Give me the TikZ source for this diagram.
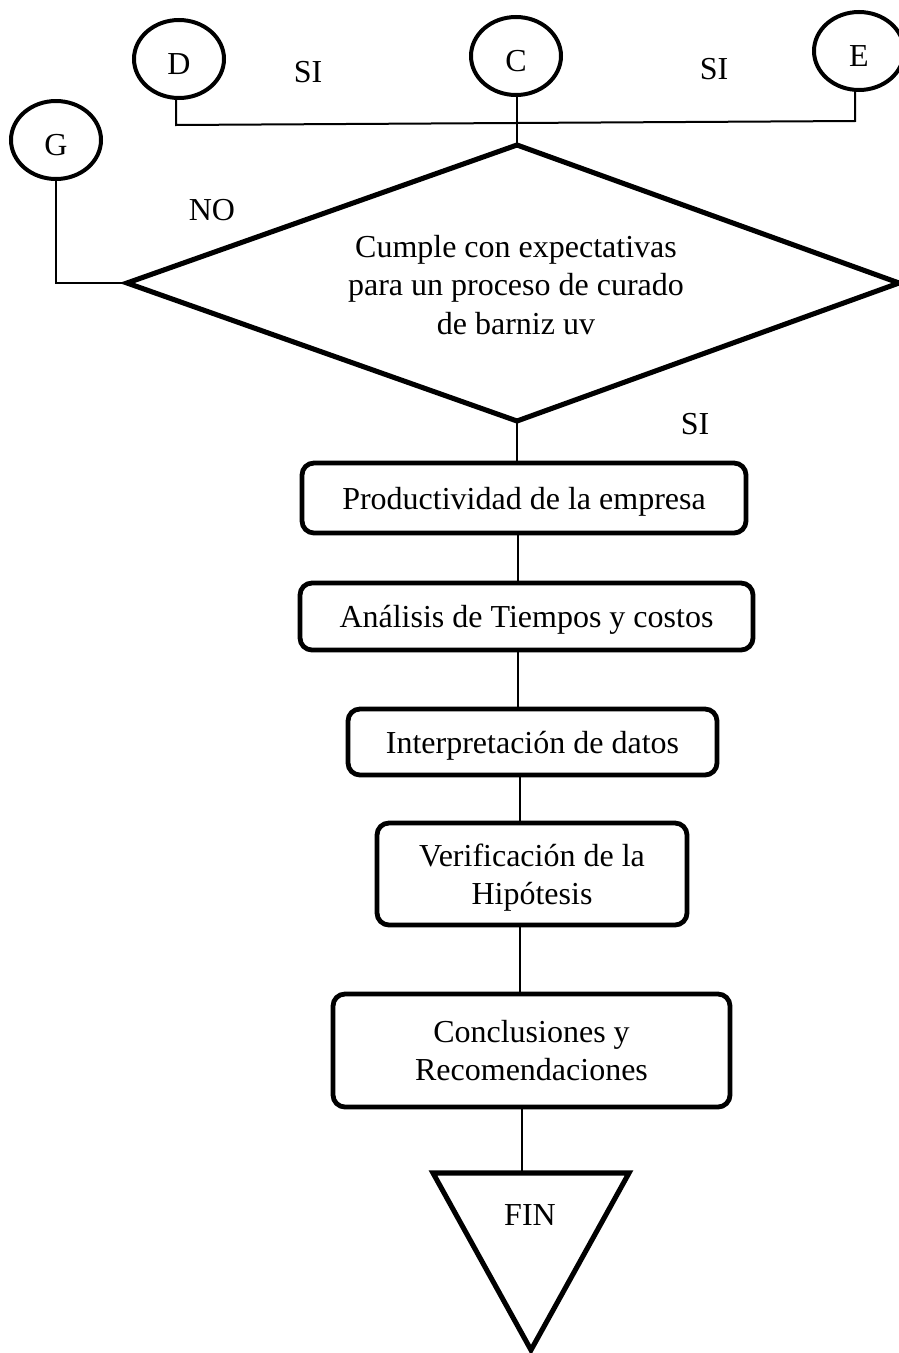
\documentclass[tikz,border=0pt]{standalone}
\usepackage{fontspec}
\setmainfont{Liberation Serif}
\usetikzlibrary{shapes.geometric}

\tikzset{
  x=0.75pt, y=-0.75pt,
  txt/.style={font=\fontsize{24}{28.5}\selectfont, align=center, inner sep=0pt},
  link/.style={line width=1.5pt},
  conn/.style={ellipse, draw, line width=3pt, minimum width=67.5pt, minimum height=58.5pt,
               inner sep=0pt, outer sep=0pt, text height=23.5pt, text depth=0pt,
               font=\fontsize{24}{28.5}\selectfont},
  proc/.style={draw, line width=3.6pt, rounded corners=9pt, inner sep=0pt, outer sep=0pt,
               align=center, text depth=0pt, font=\fontsize{24}{28.5}\selectfont},
  shapeline/.style={line width=3.8pt, line join=miter}
}

\begin{document}
\begin{tikzpicture}
\useasboundingbox (0,0) rectangle (899,1353);

% connector circles
\node[conn] (D) at (179,59) {D};
\node[conn] (C) at (516,56) {C};
\node[conn] (E) at (859,51) {E};
\node[conn] (G) at (56,140) {G};

% labels
\node[txt] (si1) at (308,72) {SI};
\node[txt] (si2) at (714,69) {SI};
\node[txt] (no) at (212,210) {NO};
\node[txt] (si3) at (695,424) {SI};

% decision
\coordinate (dN) at (517,145);
\coordinate (dE) at (899,283);
\coordinate (dS) at (517,421);
\coordinate (dW) at (127,283);
\draw[shapeline] (dN) -- (dE) -- (dS) -- (dW) -- cycle;
\node[txt, font=\fontsize{24}{29}\selectfont] (dec) at (516,285) {Cumple con expectativas\\para un proceso de curado\\de barniz uv};

% process boxes
\node[proc, minimum width=333pt, minimum height=52.5pt] (b1) at (524,498) {Productividad de la empresa};
\node[proc, minimum width=339.75pt, minimum height=50.25pt] (b2) at (526.5,616.5) {Análisis de Tiempos y costos};
\node[proc, minimum width=276.75pt, minimum height=49.5pt] (b3) at (532.5,742) {Interpretación de datos};
\node[proc, minimum width=232.5pt, minimum height=76.5pt] (b4) at (532,874) {Verificación de la\\Hipótesis};
\node[proc, minimum width=297.75pt, minimum height=84.75pt] (b5) at (531.5,1050.5) {Conclusiones y\\Recomendaciones};

% terminal triangle
\coordinate (tl) at (433,1173);
\coordinate (tr) at (629,1173);
\coordinate (tb) at (531,1350);
\draw[shapeline] (tl) -- (tr) -- (tb) -- cycle;
\node[txt] (fin) at (530,1215) {FIN};
\coordinate (finTop) at (522,1173);

% top bus joining D, C and E
\coordinate (busL) at (176,125);
\coordinate (busR) at (855,121);
\draw[link] (D.south -| busL) -- (busL) -- (busR) -- (E.south -| busR);
\draw[link] (C.south -| dN) -- (dN);

% NO branch to G
\draw[link] (G.south) |- (dW);

% main flow
\draw[link] (dS) -- (dS |- b1.north);
\coordinate (ax1) at (518,0);
\draw[link] (b1.south -| ax1) -- (b2.north -| ax1);
\draw[link] (b2.south -| ax1) -- (b3.north -| ax1);
\coordinate (ax2) at (520,0);
\draw[link] (b3.south -| ax2) -- (b4.north -| ax2);
\draw[link] (b4.south -| ax2) -- (b5.north -| ax2);
\draw[link] (b5.south -| finTop) -- (finTop);
\end{tikzpicture}
\end{document}
